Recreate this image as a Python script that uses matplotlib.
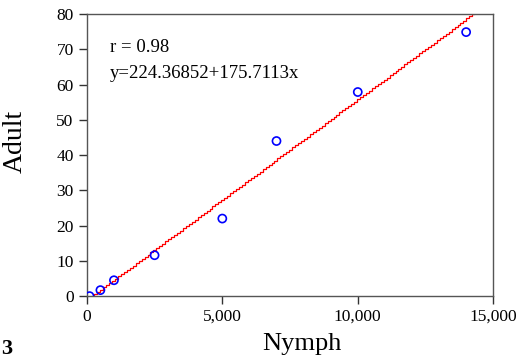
import numpy as np
import matplotlib.pyplot as plt

plt.rcParams['font.family'] = ['Liberation Serif', 'DejaVu Serif']

# observed points
nymph = [100, 500, 1000, 2500, 5000, 7000, 10000, 14000]
adult = [0, 1.7, 4.5, 11.6, 22, 44, 57.9, 74.9]

# fitted line: Nymph = a + b * Adult
a = 224.36852
b = 175.7113
y_fit = np.linspace(0, 80, 130)
x_fit = a + b * y_fit

fig = plt.figure(figsize=(5.17, 3.62), dpi=100)
ax = fig.add_axes([0.168, 0.182, 0.786, 0.779])

ax.plot(x_fit, y_fit, color='red', lw=0.9, drawstyle='steps-mid')
ax.scatter(nymph, adult, s=34, facecolors='none', edgecolors='blue', linewidths=1.2, zorder=3)

ax.set_xlim(0, 15000)
ax.set_ylim(0, 80)
ax.set_xticks([0, 5000, 10000, 15000])
ax.set_xticklabels(['0', '5,000', '10,000', '15,000'])
ax.set_yticks(range(0, 81, 10))

for s in ['top', 'right', 'left', 'bottom']:
    ax.spines[s].set_color('#555555')
    ax.spines[s].set_linewidth(1.0)
ax.tick_params(direction='out', length=6, width=1, color='#333333', labelsize=12.5)
ax.tick_params(axis='x', pad=3)

ax.set_xlabel('Nymph', fontsize=19)
ax.set_ylabel('Adult', fontsize=20)
ax.xaxis.set_label_coords(0.53, -0.13)
ax.yaxis.set_label_coords(-0.145, 0.55)

ax.text(850, 70.6, 'r = 0.98', fontsize=13.5, va='center')
ax.text(850, 63.2, 'y=224.36852+175.7113x', fontsize=13.5, va='center')

fig.text(0.003, 0.008, '3', fontsize=16, fontweight='bold', va='bottom')

fig.savefig('out.png', dpi=100)
